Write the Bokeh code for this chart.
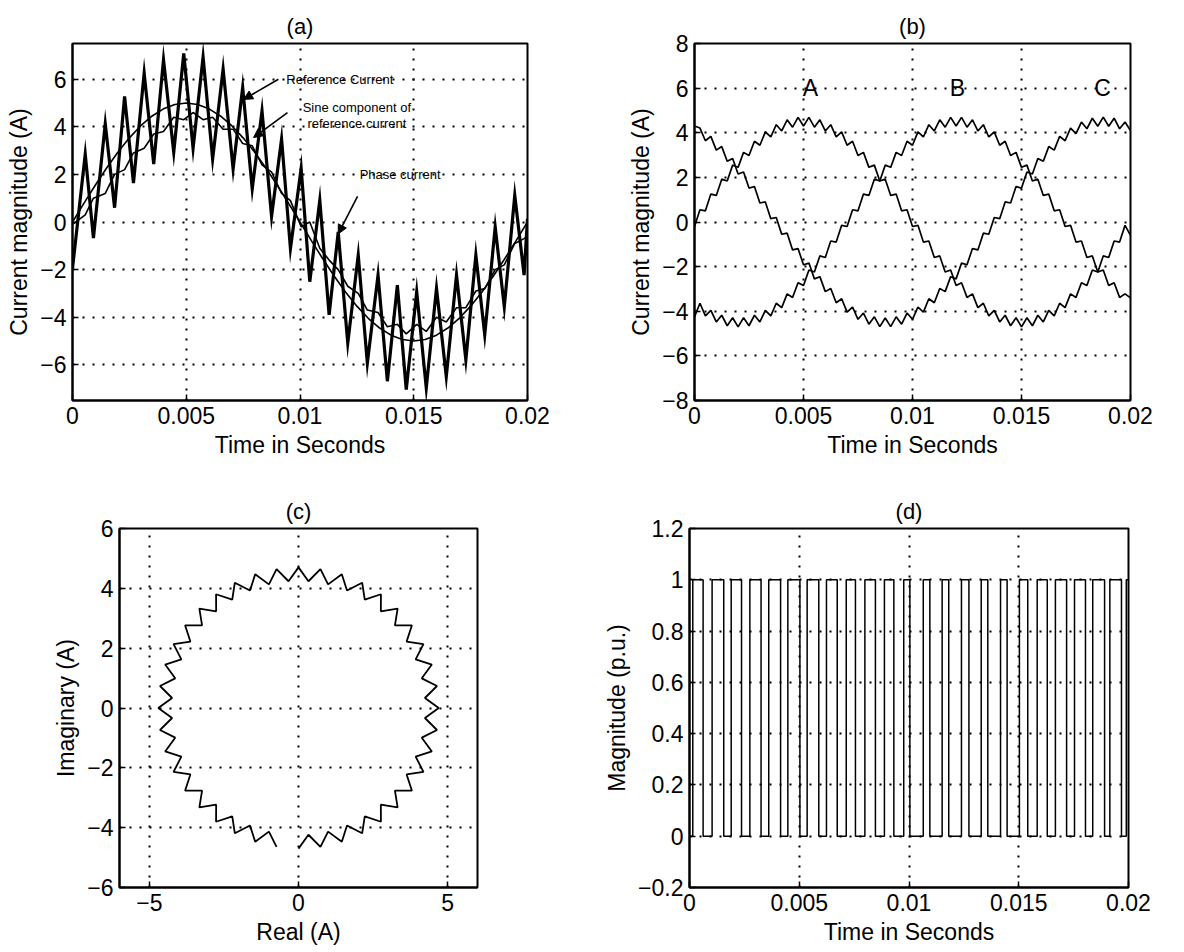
from bokeh.plotting import figure
from bokeh.layouts import column, row
from bokeh.models import FixedTicker, CustomJSTickFormatter, Arrow, NormalHead, Label, Range1d
from bokeh.embed import file_html
from bokeh.resources import INLINE

FONT = "Liberation Sans"

# ---------------- data ----------------
# (a) reference current (thick), phase current (thin), sine component
A_T_MS = [0, 0.56, 0.92, 1.44, 1.85, 2.29, 2.68, 3.15, 3.57, 4.00, 4.45, 4.89, 5.30, 5.74, 6.16, 6.62,
          7.06, 7.48, 7.90, 8.33, 8.75, 9.19, 9.58, 10.05, 10.43, 10.87, 11.28, 11.68, 12.10, 12.56,
          12.96, 13.43, 13.84, 14.28, 14.67, 15.13, 15.55, 16.00, 16.43, 16.88, 17.29, 17.73, 18.12,
          18.58, 18.98, 19.44, 19.85, 20.0]
A_REF = [-1.95, 2.85, -0.68, 4.13, 0.60, 5.28, 1.63, 6.25, 2.43, 6.82, 2.93, 7.08, 3.10, 6.93, 2.65,
         6.42, 2.23, 5.65, 1.39, 4.67, 0.24, 3.49, -1.12, 2.25, -2.51, 0.91, -3.90, -0.42, -5.09,
         -1.39, -5.93, -2.23, -6.69, -2.65, -7.04, -2.93, -6.97, -2.79, -6.49, -2.23, -5.79, -1.39,
         -4.74, -0.21, -3.56, 1.12, -2.23, 0.14]
A_PHASE = [-0.1, 0.3, 1.0, 1.2, 2.0, 2.2, 2.9, 3.1, 3.7, 3.8, 4.4, 4.3, 4.6, 4.3, 4.4, 3.9, 3.9, 3.3,
           3.2, 2.4, 2.1, 1.2, 0.9, -0.2, 0.0, -1.1, -1.6, -2.0, -2.7, -3.0, -3.7, -3.8, -4.4, -4.3,
           -4.7, -4.3, -4.6, -4.0, -4.2, -3.6, -3.6, -2.9, -2.8, -2.0, -1.8, -0.9, -0.7, -0.6]
A_SINE_T_MS = [i * 0.5 for i in range(41)]
A_SINE = [0, 0.782, 1.545, 2.270, 2.939, 3.536, 4.045, 4.455, 4.755, 4.938, 5.0, 4.938, 4.755, 4.455,
          4.045, 3.536, 2.939, 2.270, 1.545, 0.782, 0, -0.782, -1.545, -2.270, -2.939, -3.536,
          -4.045, -4.455, -4.755, -4.938, -5.0, -4.938, -4.755, -4.455, -4.045, -3.536, -2.939,
          -2.270, -1.545, -0.782, 0]

# (b) three phase currents
B_T_MS = [i * 0.25 for i in range(81)]
PHASE_A = [-0.2, 0.55, 0.50, 1.25, 1.19, 1.92, 1.84, 2.55, 2.45, 3.12, 2.98, 3.62, 3.44, 4.04, 3.81,
           4.36, 4.08, 4.58, 4.25, 4.69, 4.30, 4.69, 4.25, 4.58, 4.08, 4.36, 3.81, 4.04, 3.44, 3.62,
           2.98, 3.12, 2.45, 2.55, 1.84, 1.92, 1.19, 1.25, 0.50, 0.55, -0.20, -0.15, -0.90, -0.85,
           -1.59, -1.52, -2.24, -2.15, -2.85, -2.72, -3.38, -3.22, -3.84, -3.64, -4.21, -3.96, -4.48,
           -4.18, -4.65, -4.29, -4.70, -4.29, -4.65, -4.18, -4.48, -3.96, -4.21, -3.64, -3.84, -3.22,
           -3.38, -2.72, -2.85, -2.15, -2.24, -1.52, -1.59, -0.85, -0.90, -0.15, -0.60]
PHASE_B = [-4.25, -3.64, -4.21, -3.96, -4.48, -4.18, -4.65, -4.29, -4.70, -4.29, -4.65, -4.18, -4.48,
           -3.96, -4.21, -3.64, -3.84, -3.22, -3.38, -2.72, -2.85, -2.15, -2.24, -1.52, -1.59, -0.85,
           -0.90, -0.15, -0.20, 0.55, 0.50, 1.25, 1.19, 1.92, 1.84, 2.55, 2.45, 3.12, 2.98, 3.62, 3.44,
           4.04, 3.81, 4.36, 4.08, 4.58, 4.25, 4.69, 4.30, 4.69, 4.25, 4.58, 4.08, 4.36, 3.81, 4.04,
           3.44, 3.62, 2.98, 3.12, 2.45, 2.55, 1.84, 1.92, 1.19, 1.25, 0.50, 0.55, -0.20, -0.15, -0.90,
           -0.85, -1.59, -1.52, -2.24, -2.15, -2.85, -2.72, -3.38, -3.22, -3.40]
PHASE_C = [4.30, 4.21, 3.64, 3.84, 3.22, 3.38, 2.72, 2.85, 2.15, 2.24, 1.52, 1.59, 0.85, 0.90, 0.15,
           0.20, -0.55, -0.50, -1.25, -1.19, -1.92, -1.84, -2.55, -2.45, -3.12, -2.98, -3.62, -3.44,
           -4.04, -3.81, -4.36, -4.08, -4.58, -4.25, -4.69, -4.30, -4.69, -4.25, -4.58, -4.08, -4.36,
           -3.81, -4.04, -3.44, -3.62, -2.98, -3.12, -2.45, -2.55, -1.84, -1.92, -1.19, -1.25, -0.50,
           -0.55, 0.20, 0.15, 0.90, 0.85, 1.59, 1.52, 2.24, 2.15, 2.85, 2.72, 3.38, 3.22, 3.84, 3.64,
           4.21, 3.96, 4.48, 4.18, 4.65, 4.29, 4.70, 4.29, 4.65, 4.18, 4.48, 4.10]
PHASE_NAMES = ["A", "B", "C"]
PHASE_NAME_T_MS = [5.32, 12.06, 18.72]

# (c) current space vector
VEC_REAL = [0, 0.334, 0.735, 0.992, 1.452, 1.626, 2.134, 2.221, 2.763, 2.760, 3.323, 3.232, 3.802,
            3.624, 4.188, 3.927, 4.470, 4.133, 4.642, 4.237, 4.7, 4.237, 4.642, 4.133, 4.470, 3.927,
            4.188, 3.624, 3.802, 3.232, 3.323, 2.760, 2.763, 2.221, 2.134, 1.626, 1.452, 0.992,
            0.735, 0.334, 0, -0.334, -0.735, -0.992, -1.452, -1.626, -2.134, -2.221, -2.763, -2.760,
            -3.323, -3.232, -3.802, -3.624, -4.188, -3.927, -4.470, -4.133, -4.642, -4.237, -4.7,
            -4.237, -4.642, -4.133, -4.470, -3.927, -4.188, -3.624, -3.802, -3.232, -3.323, -2.760,
            -2.763, -2.221, -2.134, -1.626, -1.452, -0.992, -0.735]
VEC_IMAG = [-4.7, -4.237, -4.642, -4.133, -4.470, -3.927, -4.188, -3.624, -3.802, -3.232, -3.323,
            -2.760, -2.763, -2.221, -2.134, -1.626, -1.452, -0.992, -0.735, -0.334, 0, 0.334, 0.735,
            0.992, 1.452, 1.626, 2.134, 2.221, 2.763, 2.760, 3.323, 3.232, 3.802, 3.624, 4.188,
            3.927, 4.470, 4.133, 4.642, 4.237, 4.7, 4.237, 4.642, 4.133, 4.470, 3.927, 4.188, 3.624,
            3.802, 3.232, 3.323, 2.760, 2.763, 2.221, 2.134, 1.626, 1.452, 0.992, 0.735, 0.334, 0,
            -0.334, -0.735, -0.992, -1.452, -1.626, -2.134, -2.221, -2.763, -2.760, -3.323, -3.232,
            -3.802, -3.624, -4.188, -3.927, -4.470, -4.133, -4.642]

# (d) switching signal edges (ms)
RISE_MS = [0.15, 1.03, 1.90, 2.75, 3.61, 4.48, 5.36, 6.24, 7.14, 7.99, 8.88, 9.76, 10.65, 11.51,
           12.39, 13.29, 14.17, 15.03, 15.84, 16.67, 17.54, 18.37, 19.15, 19.90]
FALL_MS = [0.62, 1.56, 2.37, 3.26, 4.15, 5.03, 5.89, 6.73, 7.56, 8.47, 9.31, 10.04, 10.95, 11.81,
           12.73, 13.59, 14.47, 15.41, 16.30, 17.18, 18.04, 18.91, 19.68]

# ticks
T_TICKS = [0, 0.005, 0.01, 0.015, 0.02]
A_YTICKS = [-6, -4, -2, 0, 2, 4, 6]
B_YTICKS = [-8, -6, -4, -2, 0, 2, 4, 6, 8]
C_XTICKS = [-5, 0, 5]
C_YTICKS = [-6, -4, -2, 0, 2, 4, 6]
D_YTICKS = [-0.2, 0, 0.2, 0.4, 0.6, 0.8, 1.0, 1.2]

# ---------------- helpers ----------------
FMT = CustomJSTickFormatter(code="""
const v = Math.round(tick * 1e6) / 1e6;
return v < 0 ? '\u2212' + String(-v) : String(v);
""")


def make_fig(title, width, height, xr, yr, lb, rb, tb, bb, xticks, yticks, xlabel, ylabel):
    p = figure(width=width, height=height, x_range=Range1d(*xr), y_range=Range1d(*yr),
               output_backend="svg", toolbar_location=None, title=title,
               min_border_left=lb, min_border_right=rb, min_border_top=tb, min_border_bottom=bb)
    p.title.align = "center"
    p.title.text_font = FONT
    p.title.text_font_size = "22px"
    p.title.text_font_style = "normal"
    p.title.text_color = "black"
    p.outline_line_color = "black"
    p.outline_line_width = 2
    p.outline_line_alpha = 1
    p.xaxis.ticker = FixedTicker(ticks=xticks)
    p.yaxis.ticker = FixedTicker(ticks=yticks)
    p.xaxis.axis_label = xlabel
    p.yaxis.axis_label = ylabel
    for ax in p.axis:
        ax.formatter = FMT
        ax.axis_line_color = "black"
        ax.axis_line_width = 2
        ax.major_tick_in = 6
        ax.major_tick_out = 0
        ax.major_tick_line_color = "black"
        ax.major_tick_line_width = 1.5
        ax.minor_tick_line_color = None
        ax.major_label_text_font = FONT
        ax.major_label_text_font_size = "23px"
        ax.major_label_text_color = "black"
        ax.major_label_standoff = 6
        ax.axis_label_text_font = FONT
        ax.axis_label_text_font_size = "23px"
        ax.axis_label_text_font_style = "normal"
        ax.axis_label_text_color = "black"
        ax.axis_label_standoff = 5
    p.grid.grid_line_color = "black"
    p.grid.grid_line_dash = "2 8"
    p.grid.grid_line_width = 2
    p.grid.grid_line_alpha = 1
    return p


ms = lambda lst: [v / 1000.0 for v in lst]

# ---------------- (a) ----------------
pa = make_fig("(a)", 600, 470, (0, 0.02), (-7.5, 7.5), 72, 73, 43, 70, T_TICKS, A_YTICKS,
              "Time in Seconds", "Current magnitude (A)")
pa.line(ms(A_SINE_T_MS), A_SINE, line_color="black", line_width=1.6)
pa.line(ms(A_T_MS), A_PHASE, line_color="black", line_width=1.6)
pa.line(ms(A_T_MS), A_REF, line_color="black", line_width=3.2, line_join="miter")

ANN_SIZE = "13px"
pa.add_layout(Label(x=0.0094, y=6.0, text="Reference Current", text_font=FONT,
                    text_font_size=ANN_SIZE, text_align="left", text_baseline="middle",
                    text_color="black"))
pa.add_layout(Label(x=0.0125, y=4.8, text="Sine component of", text_font=FONT,
                    text_font_size=ANN_SIZE, text_align="center", text_baseline="middle",
                    text_color="black"))
pa.add_layout(Label(x=0.0125, y=4.13, text="reference current", text_font=FONT,
                    text_font_size=ANN_SIZE, text_align="center", text_baseline="middle",
                    text_color="black"))
pa.add_layout(Label(x=0.0144, y=2.0, text="Phase current", text_font=FONT,
                    text_font_size=ANN_SIZE, text_align="center", text_baseline="middle",
                    text_color="black"))
for xs, ys, xe, ye in [(0.00905, 6.0, 0.00752, 5.15), (0.00945, 4.6, 0.00796, 3.55),
                       (0.01253, 1.08, 0.01168, -0.5)]:
    pa.add_layout(Arrow(end=NormalHead(size=9, fill_color="black", line_color="black"),
                        x_start=xs, y_start=ys, x_end=xe, y_end=ye,
                        line_color="black", line_width=1.6))

# ---------------- (b) ----------------
pb = make_fig("(b)", 584, 470, (0, 0.02), (-8, 8), 94, 54, 43, 70, T_TICKS, B_YTICKS,
              "Time in Seconds", "Current magnitude (A)")
for series in (PHASE_A, PHASE_B, PHASE_C):
    pb.line(ms(B_T_MS), series, line_color="black", line_width=1.7)
for name, t in zip(PHASE_NAMES, PHASE_NAME_T_MS):
    pb.add_layout(Label(x=t / 1000.0, y=6.0, text=name, text_font=FONT, text_font_size="23px",
                        text_align="center", text_baseline="middle", text_color="black"))

# ---------------- (c) ----------------
pc = make_fig("(c)", 600, 482, (-6, 6), (-6, 6), 119, 123, 58, 65, C_XTICKS, C_YTICKS,
              "Real (A)", "Imaginary (A)")
pc.line(VEC_REAL, VEC_IMAG, line_color="black", line_width=1.8)

# ---------------- (d) ----------------
pd_ = make_fig("(d)", 584, 482, (0, 0.02), (-0.2, 1.2), 89, 56, 58, 65, T_TICKS, D_YTICKS,
               "Time in Seconds", "Magnitude (p.u.)")
sx, sy = [0.0], [0]
for i, r in enumerate(RISE_MS):
    sx += [r, r]
    sy += [0, 1]
    if i < len(FALL_MS):
        sx += [FALL_MS[i], FALL_MS[i]]
        sy += [1, 0]
sx.append(20.0)
sy.append(sy[-1])
pd_.line(ms(sx), sy, line_color="black", line_width=1.5)

layout = column(row(pa, pb), row(pc, pd_))
open("out.html", "w").write(file_html(layout, INLINE))
